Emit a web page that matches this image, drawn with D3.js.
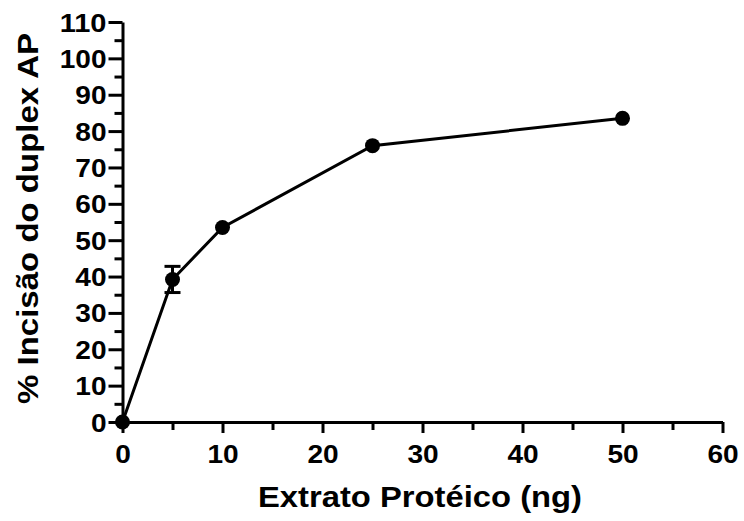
<!DOCTYPE html>
<html><head><meta charset="utf-8">
<script src="https://cdn.jsdelivr.net/npm/d3@7"></script>
<style>body{margin:0;background:#fff}svg{display:block}text{font-family:"Liberation Sans",Arial,sans-serif;font-weight:bold;fill:#000}</style>
</head><body><svg id="c" width="744" height="521"></svg>
<script>
const xValues = [0, 5, 10, 25, 50];
const yValues = [0, 39.2, 53.5, 76, 83.5];
const yErrors = [0, 3.6, 0, 0, 0];
const xMajorTicks = [0, 10, 20, 30, 40, 50, 60];
const xMinorTicks = [5, 15, 25, 35, 45, 55];
const yMajorTicks = [0, 10, 20, 30, 40, 50, 60, 70, 80, 90, 100, 110];
const yMinorTicks = [5, 15, 25, 35, 45, 55, 65, 75, 85, 95, 105];
const xTitle = "Extrato Protéico (ng)";
const yTitle = "% Incisão do duplex AP";

const svg = d3.select("#c");
const x = d3.scaleLinear().domain([0, 60]).range([122.5, 722.5]);
const y = d3.scaleLinear().domain([0, 110]).range([422, 22]);

function styleAxis(g){
  g.select(".domain").attr("stroke", "#000").attr("stroke-width", 3);
  g.selectAll(".tick line").attr("stroke", "#000").attr("stroke-width", 3);
}
// X axis
const gx = svg.append("g").attr("transform", `translate(0,${y(0)})`);
gx.call(d3.axisBottom(x).tickValues(xMajorTicks).tickSize(11).tickSizeOuter(0).tickFormat(d3.format("d")));
styleAxis(gx);
gx.selectAll(".tick text").attr("font-size", 25).attr("font-family", null).attr("dy", null).attr("y", 41)
  .each(function(d){ d3.select(this).attr("textLength", String(d).length * 15.6).attr("lengthAdjust", "spacingAndGlyphs"); });
const gxm = svg.append("g").attr("transform", `translate(0,${y(0)})`);
gxm.call(d3.axisBottom(x).tickValues(xMinorTicks).tickSize(8).tickFormat(""));
gxm.select(".domain").remove();
gxm.selectAll(".tick line").attr("stroke", "#000").attr("stroke-width", 3);

// Y axis
const gy = svg.append("g").attr("transform", `translate(${x(0)},0)`);
gy.call(d3.axisLeft(y).tickValues(yMajorTicks).tickSize(14).tickSizeOuter(0).tickFormat(d3.format("d")));
styleAxis(gy);
gy.selectAll(".tick text").attr("font-size", 25).attr("font-family", null).attr("dy", null).attr("y", 9).attr("x", -16)
  .each(function(d){ d3.select(this).attr("textLength", String(d).length * 15.6).attr("lengthAdjust", "spacingAndGlyphs"); });
const gym = svg.append("g").attr("transform", `translate(${x(0)},0)`);
gym.call(d3.axisLeft(y).tickValues(yMinorTicks).tickSize(8).tickFormat(""));
gym.select(".domain").remove();
gym.selectAll(".tick line").attr("stroke", "#000").attr("stroke-width", 3);

// Titles
svg.append("text").attr("x", 420).attr("y", 506.5).attr("text-anchor", "middle")
  .attr("font-size", 30).attr("textLength", 324).attr("lengthAdjust", "spacingAndGlyphs").text(xTitle);
svg.append("text").attr("transform", "translate(38,218.5) rotate(-90)").attr("text-anchor", "middle")
  .attr("font-size", 30).attr("textLength", 371).attr("lengthAdjust", "spacingAndGlyphs").text(yTitle);

// Data
const data = xValues.map((v, i) => ({x: v, y: yValues[i], e: yErrors[i]}));
svg.append("path").datum(data)
  .attr("d", d3.line().x(d => x(d.x)).y(d => y(d.y)))
  .attr("fill", "none").attr("stroke", "#000").attr("stroke-width", 3);
const eb = svg.append("g").selectAll("g").data(data.filter(d => d.e > 0)).join("g");
eb.append("line").attr("x1", d => x(d.x)).attr("x2", d => x(d.x))
  .attr("y1", d => y(d.y + d.e)).attr("y2", d => y(d.y - d.e)).attr("stroke", "#000").attr("stroke-width", 3);
eb.append("line").attr("x1", d => x(d.x) - 8).attr("x2", d => x(d.x) + 8)
  .attr("y1", d => y(d.y + d.e)).attr("y2", d => y(d.y + d.e)).attr("stroke", "#000").attr("stroke-width", 3);
eb.append("line").attr("x1", d => x(d.x) - 8).attr("x2", d => x(d.x) + 8)
  .attr("y1", d => y(d.y - d.e)).attr("y2", d => y(d.y - d.e)).attr("stroke", "#000").attr("stroke-width", 3);
svg.append("g").selectAll("circle").data(data).join("circle")
  .attr("cx", d => x(d.x)).attr("cy", d => y(d.y)).attr("r", 7.5).attr("fill", "#000");
</script></body></html>
